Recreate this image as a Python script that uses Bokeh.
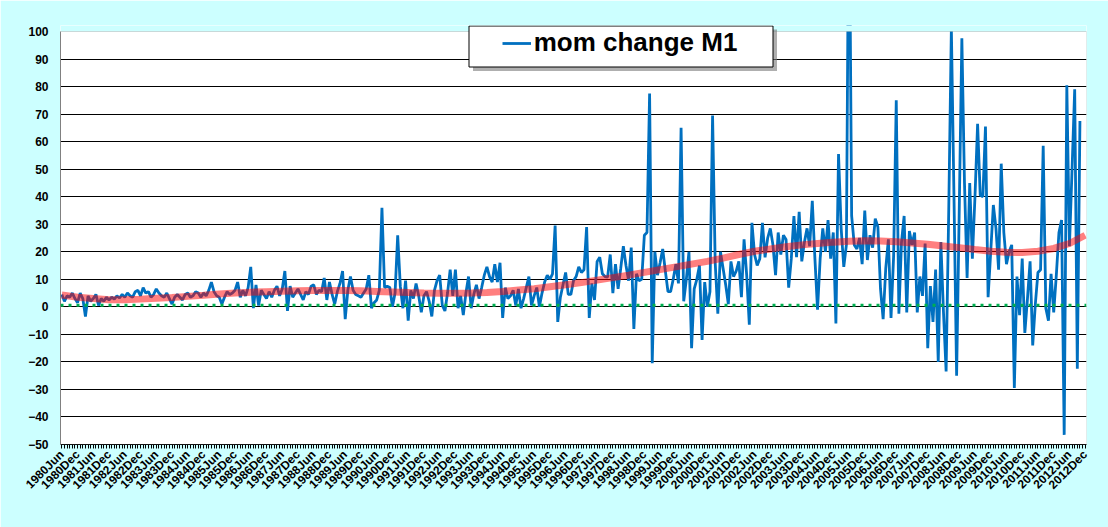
from math import pi
from bokeh.plotting import figure
from bokeh.models import (Range1d, FixedTicker, Span, Legend, LegendItem, BoxAnnotation)
from bokeh.embed import file_html
from bokeh.resources import INLINE

# ---- data (month-on-month change of M1, monthly from 1980 Jun) ----
n_months = 391  # 1980Jun .. 2012Dec categories
tick_labels = [f"{1980 + (5 + k) // 12}{'Jun' if (5 + k) % 12 == 5 else 'Dec'}" for k in range(0, 391, 6)]

mom_change = [
    4.5, 2.0, 4.0, 3.5, 5.0, 3.0, 1.5, 5.0, 3.0, -3.5,
    4.0, 2.0, 3.0, 4.5, 0.5, 3.0, 2.0, 3.5, 2.5, 3.5,
    2.8, 4.0, 3.2, 4.5, 3.5, 5.0, 4.0, 3.5, 5.5, 6.0,
    4.0, 7.0, 5.0, 5.5, 3.5, 4.5, 6.5, 5.0, 4.0, 3.5,
    5.0, 3.0, 1.0, 3.5, 4.5, 3.5, 2.5, 4.5, 5.0, 3.5,
    4.0, 5.5, 5.0, 3.5, 5.0, 4.0, 6.0, 9.0, 5.5, 4.0,
    3.5, 1.0, 3.5, 5.5, 4.5, 5.0, 6.0, 9.0, 3.5, 6.0,
    4.0, 7.0, 14.5, -0.5, 8.0, 0.5, 6.0, 4.5, 3.0, 5.5,
    3.5, 6.0, 7.5, 4.0, 6.5, 13.0, -1.5, 7.5, 3.5, 5.0,
    6.5, 4.5, 2.5, 5.5, 4.5, 7.5, 8.0, 4.5, 6.0, 5.5,
    10.5, 2.5, 9.0, 4.5, 1.0, 5.5, 8.5, 13.0, -4.5, 6.0,
    11.0, 6.0, 4.5, 4.0, 3.5, 5.0, 6.5, 11.5, -0.5, 1.5,
    2.5, 6.0, 36.0, 7.0, 7.5, 7.0, 0.0, 5.0, 26.0, 7.5,
    -0.5, 9.5, -5.0, 6.0, 3.0, 8.5, 4.0, -2.0, 4.0, 5.5,
    2.0, -3.5, 6.0, 9.5, 11.5, 0.5, -1.5, 5.0, 13.5, 4.0,
    13.5, -0.5, 4.0, -3.0, 5.0, 11.0, -0.5, 4.5, 8.0, 3.0,
    7.0, 11.5, 14.5, 11.0, 9.0, 15.5, 9.0, 16.0, -4.0, 7.0,
    3.0, 4.0, 6.0, 0.5, 6.5, -0.5, 3.0, 7.0, 11.0, 0.5,
    4.0, 7.0, 0.0, 5.0, 9.0, 11.5, 10.0, 12.0, 29.5, -5.5,
    3.5, 8.0, 12.5, 4.5, 4.5, 9.5, 11.0, 14.5, 12.5, 13.5,
    29.0, -4.0, 8.5, 2.5, 16.5, 18.0, 12.0, 11.0, 10.8, 19.0,
    5.0, 15.5, 6.5, 14.0, 22.0, 15.0, 9.5, 21.5, -8.0, 12.0,
    9.5, 10.0, 26.0, 27.0, 77.5, -20.5, 20.0, 11.5, 16.0, 21.0,
    13.0, 5.5, 5.5, 10.0, 15.5, 8.5, 65.0, 2.0, 10.0, 20.0,
    -15.0, 6.5, 10.0, 15.0, -12.0, 9.0, 0.0, 5.5, 69.5, 16.0,
    -2.5, 20.0, 14.0, 8.0, 1.0, 16.5, 11.0, 13.0, 16.5, 3.5,
    24.5, 11.5, -6.5, 30.5, 19.0, 15.0, 17.5, 30.5, 18.0, 25.0,
    28.5, 22.5, 11.5, 27.0, 19.0, 26.0, 24.5, 7.0, 17.5, 33.0,
    18.0, 34.5, 16.5, 23.5, 28.5, 22.0, 38.5, 17.5, -1.0, 17.5,
    28.5, 20.0, 31.5, 17.5, 27.0, -6.0, 55.5, 28.5, 14.5, 22.5,
    165.0, 33.0, 22.5, 21.0, 25.0, 15.5, 35.0, 17.0, 26.0, 21.5,
    32.0, 29.0, 6.5, -4.5, 14.0, 24.5, -4.0, 18.5, 75.0, -2.5,
    23.5, 33.0, -2.0, 27.5, 22.5, 27.0, -2.0, 11.0, 4.0, 23.0,
    -15.0, 7.5, -5.5, 13.5, -20.0, 23.5, -2.0, -23.5, 35.0, 101.0,
    40.0, -25.0, 35.0, 97.5, 45.0, 10.5, 45.0, 17.5, 40.0, 66.5,
    40.5, 40.0, 65.5, 3.5, 20.0, 37.0, 28.5, 13.5, 52.0, 27.0,
    15.5, 20.0, 22.5, -29.5, 11.0, -3.0, 17.5, -9.5, 3.0, 16.5,
    -14.0, 1.0, 12.5, 13.5, 58.5, -0.5, -5.0, 12.0, -2.0, 11.5,
    27.0, 31.5, -46.5, 80.5, 22.0, 50.0, 79.0, -22.5, 67.5,
]
month_index = list(range(len(mom_change)))

# trend line read every 6 months (1980Jun .. 2012Dec)
trend_index = list(range(0, 391, 6))
trend_values = [
    4.3, 3.5, 3.0, 2.6, 2.6, 2.8, 3.1, 3.4, 3.8, 4.2,
    4.7, 5.0, 5.3, 5.5, 5.7, 5.8, 5.9, 5.9, 5.9, 5.8,
    5.6, 5.4, 5.2, 5.0, 4.9, 4.9, 5.0, 5.2, 5.6, 6.1,
    6.6, 7.3, 8.0, 8.8, 9.7, 10.6, 11.5, 12.5, 13.5, 14.5,
    15.5, 16.5, 17.7, 19.0, 20.2, 21.0, 21.8, 22.5, 23.0, 23.5,
    23.8, 24.0, 23.9, 23.6, 23.2, 22.7, 22.1, 21.5, 20.8, 20.2,
    19.8, 19.7, 20.2, 21.2, 23.0, 26.0,
]
baseline_value = 0.6
y_min, y_max = -50, 100
y_ticks = list(range(y_min, y_max + 1, 10))
series_name = "mom change M1"

# ---- figure ----
FONT = "Liberation Sans"
BG = "#CCFFFF"
PLOT_H = 413           # visible plot-area height in px
EXTRA_TOP = 6          # room above the plot area for the legend box
y_top = y_max + EXTRA_TOP * (y_max - y_min) / PLOT_H

p = figure(x_range=Range1d(-0.5, n_months - 0.5), y_range=Range1d(y_min, y_top),
           frame_width=1026, frame_height=PLOT_H + EXTRA_TOP,
           min_border_left=60, min_border_right=22, min_border_top=31 - EXTRA_TOP,
           min_border_bottom=83,
           output_backend="svg", toolbar_location=None,
           background_fill_color="white", border_fill_color=BG,
           outline_line_color=None)

# y axis
p.yaxis.ticker = FixedTicker(ticks=y_ticks, minor_ticks=[])
p.yaxis.bounds = (y_min, y_max)
p.yaxis.major_tick_out = 0
p.yaxis.major_tick_in = 0
p.yaxis.minor_tick_out = 0
p.yaxis.axis_line_color = "#808080"
p.yaxis.major_label_standoff = 12
p.yaxis.major_label_text_font = FONT
p.yaxis.major_label_text_font_style = "bold"
p.yaxis.major_label_text_font_size = "12px"
p.yaxis.major_label_text_color = "black"

# x axis
overrides = {}
for k in range(n_months):
    overrides[k] = ""
for j, lab in enumerate(tick_labels):
    overrides[trend_index[j]] = lab
p.xaxis.ticker = FixedTicker(ticks=list(range(n_months)), minor_ticks=[])
p.xaxis.major_label_overrides = overrides
p.xaxis.major_tick_out = 4
p.xaxis.major_tick_in = 0
p.xaxis.minor_tick_out = 0
p.xaxis.major_tick_line_color = "black"
p.xaxis.axis_line_color = "black"
p.xaxis.major_label_orientation = pi / 4
p.xaxis.major_label_standoff = 4
p.xaxis.major_label_text_font = FONT
p.xaxis.major_label_text_font_style = "bold"
p.xaxis.major_label_text_font_size = "12px"
p.xaxis.major_label_text_color = "black"

# grid
p.xgrid.visible = False
p.ygrid.ticker = FixedTicker(ticks=[t for t in y_ticks if y_min < t < y_max])
p.ygrid.grid_line_color = "black"
p.ygrid.grid_line_width = 1

# series
blue = p.line(month_index, mom_change, line_color="#0070C0", line_width=2.8)
p.line(trend_index, trend_values, line_color="#FF0000", line_alpha=0.5, line_width=7)
p.add_layout(Span(location=baseline_value, dimension="width", line_color="#00B050",
                  line_width=3, line_dash="3 5"))

# strip above the plot area painted as background, then plot-area border
p.add_layout(BoxAnnotation(bottom=y_max, fill_color=BG, fill_alpha=1, line_alpha=0))
p.add_layout(BoxAnnotation(left=-0.5, right=n_months - 0.5, bottom=y_min, top=y_max,
                           fill_alpha=0, line_color="#808080", line_width=1))

# legend box + shadow (screen units relative to frame bottom-left)
p.add_layout(BoxAnnotation(left=412.5, right=716.5, bottom=373.5, top=415,
                           left_units="screen", right_units="screen",
                           bottom_units="screen", top_units="screen",
                           fill_color="#7a7a7a", fill_alpha=0.6, line_alpha=0))
p.add_layout(BoxAnnotation(left=408.5, right=712.5, bottom=377.5, top=418.5,
                           left_units="screen", right_units="screen",
                           bottom_units="screen", top_units="screen",
                           fill_color="white", fill_alpha=1, line_color="black",
                           line_width=1, line_alpha=1))
legend = Legend(items=[LegendItem(label=series_name, renderers=[blue])],
                location=(441.7, 386.0), padding=0, margin=0, spacing=0,
                glyph_width=29, glyph_height=20, label_standoff=3,
                label_text_font=FONT, label_text_font_style="bold",
                label_text_font_size="26px", label_text_color="black",
                background_fill_alpha=0, border_line_alpha=0)
p.add_layout(legend)

html = file_html(p, INLINE)
html = html.replace("<body>", '<body style="background-color:#CCFFFF;">', 1)
open("out.html", "w").write(html)
